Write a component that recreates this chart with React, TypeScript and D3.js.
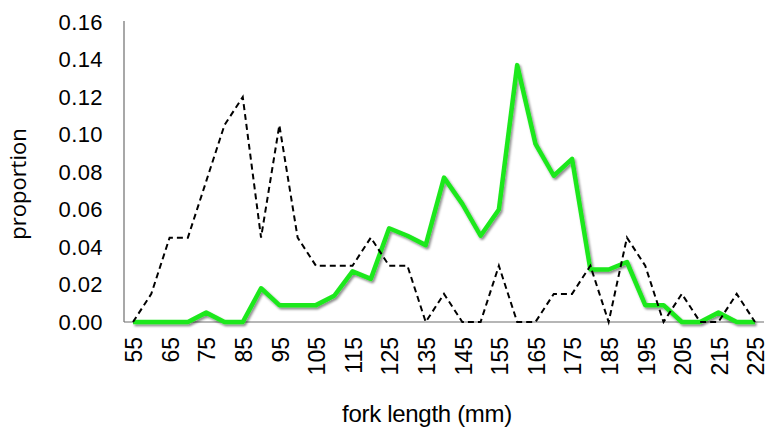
import { useEffect, useRef } from 'react'
import * as d3 from 'd3'

const lengths = d3.range(55, 226, 5)
const tickLabels = lengths.filter((_, i) => i % 2 === 0)
const yTicks = [0, 0.02, 0.04, 0.06, 0.08, 0.1, 0.12, 0.14, 0.16]

// dashed black series
const dashed = [
  0, 0.015, 0.045, 0.045, 0.075, 0.105, 0.12, 0.045, 0.105, 0.045,
  0.03, 0.03, 0.03, 0.045, 0.03, 0.03, 0, 0.015, 0, 0,
  0.03, 0, 0, 0.015, 0.015, 0.03, 0, 0.045, 0.03, 0,
  0.015, 0, 0, 0.015, 0,
]

// green series
const green = [
  0, 0, 0, 0, 0.005, 0, 0, 0.018, 0.009, 0.009,
  0.009, 0.014, 0.027, 0.023, 0.05, 0.046, 0.041, 0.077, 0.063, 0.046,
  0.06, 0.137, 0.095, 0.078, 0.087, 0.028, 0.028, 0.032, 0.009, 0.009,
  0, 0, 0.005, 0, 0,
]

export default function App() {
  const ref = useRef<SVGSVGElement | null>(null)

  useEffect(() => {
    const el = ref.current
    if (!el) return
    const svg = d3.select(el)
    svg.selectAll('*').remove()

    const m = { left: 124, right: 5, top: 22, bottom: 107 }
    const width = 769
    const height = 429

    const x = d3.scalePoint<number>().domain(lengths).range([133, 755])
    const y = d3.scaleLinear().domain([0, 0.16]).range([height - m.bottom, m.top])

    const defs = svg.append('defs')
    const f = defs.append('filter').attr('id', 'shadow')
      .attr('x', '-5%').attr('y', '-5%').attr('width', '110%').attr('height', '120%')
    f.append('feDropShadow').attr('dx', 1.5).attr('dy', 2).attr('stdDeviation', 1.2)
      .attr('flood-color', '#000').attr('flood-opacity', 0.45)

    const font = '"Liberation Sans", Arial, sans-serif'

    // y ticks
    svg.append('g').selectAll('text').data(yTicks).join('text')
      .attr('x', 103).attr('y', d => y(d)).attr('dy', '0.36em')
      .attr('text-anchor', 'end').attr('font-family', font).attr('font-size', 22)
      .attr('letter-spacing', 0.4)
      .attr('fill', '#000')
      .text(d => d.toFixed(2))

    // x ticks
    svg.append('g').selectAll('text').data(tickLabels).join('text')
      .attr('transform', d => `translate(${(x(d) ?? 0) + 1},${y(0) + 15}) rotate(-90)`)
      .attr('dy', '0.36em')
      .attr('text-anchor', 'end').attr('font-family', font).attr('font-size', 23)
      .attr('fill', '#000')
      .text(d => String(d))

    // axes lines
    svg.append('line').attr('x1', m.left).attr('x2', m.left)
      .attr('y1', m.top - 1).attr('y2', y(0))
      .attr('stroke', '#6e6e6e').attr('stroke-width', 1.2)
    svg.append('line').attr('x1', m.left).attr('x2', width - m.right)
      .attr('y1', y(0)).attr('y2', y(0))
      .attr('stroke', '#6e6e6e').attr('stroke-width', 1.2)

    const line = d3.line<number>()
      .x((_, i) => x(lengths[i]) ?? 0)
      .y(d => y(d))

    svg.append('path').datum(green)
      .attr('d', line)
      .attr('fill', 'none')
      .attr('stroke', '#1ee81e')
      .attr('stroke-width', 4.5)
      .attr('stroke-linejoin', 'round')
      .attr('filter', 'url(#shadow)')

    svg.append('path').datum(dashed)
      .attr('d', line)
      .attr('fill', 'none')
      .attr('stroke', '#000')
      .attr('stroke-width', 2)
      .attr('stroke-dasharray', '6 4')

    // axis titles
    svg.append('text')
      .attr('x', 427).attr('y', 422)
      .attr('text-anchor', 'middle').attr('font-family', font).attr('font-size', 24)
      .attr('letter-spacing', -0.3)
      .text('fork length (mm)')

    svg.append('text')
      .attr('transform', `translate(26,184) rotate(-90)`)
      .attr('text-anchor', 'middle').attr('font-family', '"Open Sans", sans-serif').attr('font-size', 22)
      .text('proportion')
  }, [])

  return (
    <svg
      ref={ref}
      width={769}
      height={429}
      style={{ position: 'absolute', left: 0, top: 0, background: '#fff' }}
    />
  )
}
